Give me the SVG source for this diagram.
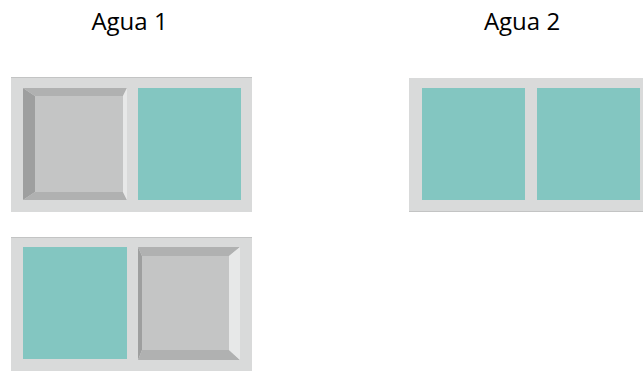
<svg xmlns="http://www.w3.org/2000/svg" width="643" height="371" viewBox="0 0 643 371">
<style>
.frame{fill:#d9dada}
.edge{fill:#c3c4c4}
.teal{fill:#83c6c1}
.face{fill:#c4c5c5}
.dark{fill:#9e9f9f}
.mid{fill:#b0b1b1}
.light{fill:#e7e8e8}
.lbl{font-family:"Open Sans","Liberation Sans",sans-serif;font-size:24px;fill:#000;text-anchor:middle}
</style>
<rect width="643" height="371" fill="#fff"/>
<g id="label1"><text class="lbl" x="129.5" y="30">Agua 1</text></g>
<g id="label2"><text class="lbl" x="522" y="30">Agua 2</text></g>
<g id="window1a">
<rect class="frame" x="11" y="77" width="241" height="135"/>
<rect class="edge" x="11" y="77" width="241" height="1"/>
<rect class="face" x="35" y="96" width="88" height="96"/>
<polygon class="dark" points="23,88 35,96 35,192 23,200"/>
<polygon class="mid" points="23,88 127,88 123,96 35,96"/>
<polygon class="mid" points="23,200 35,192 123,192 127,200"/>
<polygon class="light" points="127,88 123,96 123,192 127,200"/>
<rect class="teal" x="138" y="88" width="103" height="112"/>
</g>
<g id="window1b">
<rect class="frame" x="11" y="237" width="241" height="134"/>
<rect class="edge" x="11" y="237" width="241" height="1"/>
<rect class="teal" x="23" y="247" width="104" height="112"/>
<rect class="face" x="142" y="256" width="87" height="94"/>
<polygon class="dark" points="138,247 142,256 142,350 138,360"/>
<polygon class="mid" points="138,247 240,247 229,256 142,256"/>
<polygon class="mid" points="138,360 142,350 229,350 240,360"/>
<polygon class="light" points="240,247 229,256 229,350 240,360"/>
</g>
<g id="window2">
<rect class="frame" x="409" y="78" width="234" height="134"/>
<rect class="edge" x="409" y="211" width="234" height="1"/>
<rect class="teal" x="422" y="88" width="103" height="112"/>
<rect class="teal" x="537" y="88" width="103" height="112"/>
</g>
<g id="connectors"/>
</svg>
